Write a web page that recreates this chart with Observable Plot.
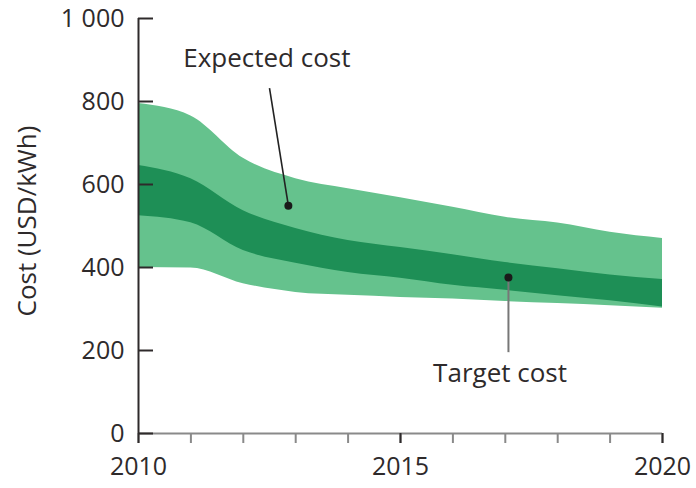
<!DOCTYPE html>
<html>
<head>
<meta charset="utf-8">
<script src="https://cdn.jsdelivr.net/npm/d3@7"></script>
<script src="https://cdn.jsdelivr.net/npm/@observablehq/plot@0.6"></script>
<style>
  html, body { margin: 0; padding: 0; background: #fff; }
  #chart svg { display: block; }
</style>
</head>
<body>
<div id="chart"></div>
<script>
// Data (USD/kWh)
const years      = [2010, 2011, 2012, 2013, 2014, 2015, 2016, 2017, 2018, 2019, 2020];
const outerHigh  = [795, 765, 663, 614, 590, 568, 545, 521, 507, 485, 470];
const innerHigh  = [646, 614, 537, 494, 465, 448, 431, 412, 397, 382, 371];
const innerLow   = [525, 508, 441, 410, 388, 374, 357, 345, 332, 320, 305];
const outerLow   = [400, 399, 361, 340, 333, 328, 324, 318, 313, 308, 302];

const yTicks = [0, 200, 400, 600, 800, 1000];
const xLabelYears = [2010, 2015, 2020];
const yLabel = "Cost (USD/kWh)";

// Annotation anchors (data coordinates)
const annoText  = ["Expected cost", "Target cost"];
const annoTextX = [2012.45, 2016.9];
const annoTextY = [903, 143];
const annoDotX  = [2012.86, 2017.06];
const annoDotY  = [549, 376];
const annoEndX  = [2012.5, 2017.06];
const annoEndY  = [832, 196];

const table = years.map((year, i) => ({
  year,
  outerHigh: outerHigh[i],
  innerHigh: innerHigh[i],
  innerLow: innerLow[i],
  outerLow: outerLow[i]
}));
const annos = annoText.map((t, i) => ({
  text: t, tx: annoTextX[i], ty: annoTextY[i],
  dx: annoDotX[i], dy: annoDotY[i], ex: annoEndX[i], ey: annoEndY[i]
}));

const light = "#65c28d";
const dark = "#1e8f56";
const ink = "#2e2a2b";

const chart = Plot.plot({
  width: 696,
  height: 488,
  marginLeft: 138,
  marginRight: 34,
  marginTop: 18,
  marginBottom: 55,
  style: { fontFamily: "'Open Sans', sans-serif", fontSize: "25px", color: ink, background: "#fff" },
  x: { domain: [2010, 2020] },
  y: { domain: [0, 1000] },
  marks: [
    Plot.areaY(table, { x: "year", y1: "outerLow", y2: "outerHigh", fill: light, curve: "monotone-x" }),
    Plot.areaY(table, { x: "year", y1: "innerLow", y2: "innerHigh", fill: dark, curve: "monotone-x" }),
    // x axis: baseline, year ticks
    Plot.ruleY([0], { stroke: "#8a8a8a", strokeWidth: 2 }),
    Plot.axisX({ ticks: years, tickSize: 10, tickFormat: () => "", stroke: "#8a8a8a", strokeWidth: 2, label: null }),
    Plot.axisX({ ticks: xLabelYears, tickSize: 10, tickPadding: 14, tickFormat: d => String(d), stroke: ink, strokeWidth: 2, fill: ink, fontSize: 25, label: null }),
    // y axis: line, inward ticks, labels
    Plot.ruleX([years[0]], { y1: yTicks[0], y2: yTicks[yTicks.length - 1], stroke: ink, strokeWidth: 2 }),
    Plot.axisY({ ticks: yTicks, tickSize: -15, tickFormat: () => "", stroke: ink, strokeWidth: 2, label: null }),
    Plot.axisY({ ticks: yTicks, tickSize: 0, tickPadding: 14, tickFormat: d => d === 1000 ? "1 000" : String(d), fill: ink, fontSize: 25, label: null }),
    Plot.text([yLabel], { frameAnchor: "left", textAnchor: "middle", lineAnchor: "middle", dx: -111, dy: -5, rotate: -90, fill: ink, fontSize: 26 }),
    // annotations
    Plot.link(annos.slice(0, 1), { x1: "ex", y1: "ey", x2: "dx", y2: "dy", stroke: "#222", strokeWidth: 1.6 }),
    Plot.link(annos.slice(1), { x1: "ex", y1: "ey", x2: "dx", y2: "dy", stroke: "#777", strokeWidth: 2 }),
    Plot.dot(annos, { x: "dx", y: "dy", r: 4, fill: "#1a1a1a" }),
    Plot.text(annos, { x: "tx", y: "ty", text: "text", fill: ink, fontSize: 26 })
  ]
});
document.getElementById("chart").appendChild(chart);
</script>
</body>
</html>
